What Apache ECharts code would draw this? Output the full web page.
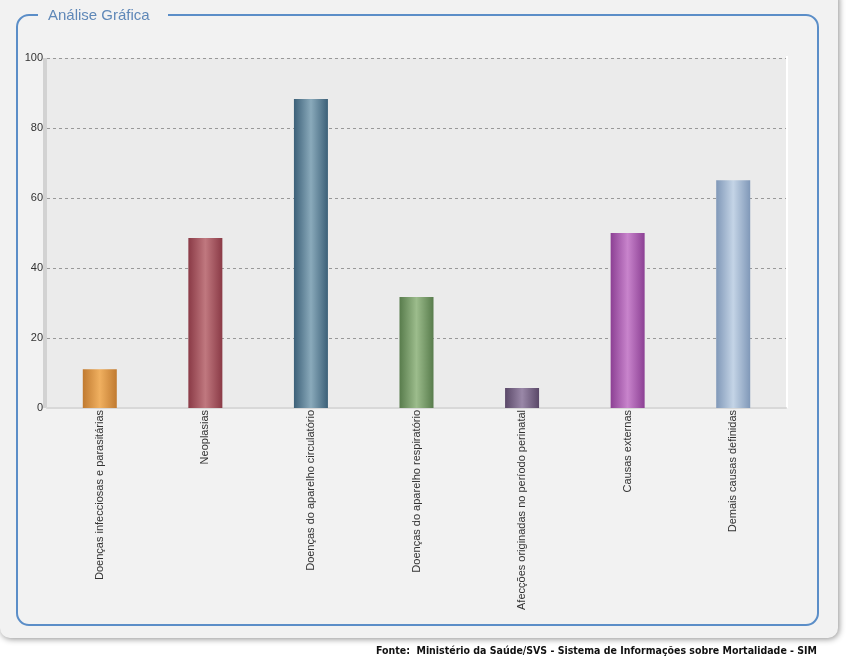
<!DOCTYPE html>
<html><head><meta charset="utf-8">
<script src="https://cdn.jsdelivr.net/npm/echarts@6/dist/echarts.min.js"></script>
<style>html,body{margin:0;padding:0;background:#fff;}#c{width:846px;height:664px;}</style>
</head><body><div id="c"></div>
<script>
const categories = [
  'Doenças infecciosas e parasitárias',
  'Neoplasias',
  'Doenças do aparelho circulatório',
  'Doenças do aparelho respiratório',
  'Afecções originadas no período perinatal',
  'Causas externas',
  'Demais causas definidas'
];
const values = [11.1, 48.6, 88.3, 31.7, 5.7, 50.0, 65.1];
const yTicks = [0, 20, 40, 60, 80, 100];
const barColors = [
  ['#c07a30', '#f0b060'],
  ['#8a3a46', '#c0787f'],
  ['#3c6078', '#8aaabb'],
  ['#587c4c', '#9cbc8c'],
  ['#5a4868', '#9a88a8'],
  ['#8c4094', '#c884cc'],
  ['#8098b8', '#c4d4e6']
];
const titleText = 'Análise Gráfica';
const footerText = 'Fonte:  Ministério da Saúde/SVS - Sistema de Informações sobre Mortalidade - SIM';

function grad(c) {
  return new echarts.graphic.LinearGradient(0, 0, 1, 0, [
    {offset: 0, color: c[0]}, {offset: 0.5, color: c[1]}, {offset: 1, color: c[0]}
  ]);
}

const chart = echarts.init(document.getElementById('c'));
chart.setOption({
  animation: false,
  backgroundColor: '#ffffff',
  graphic: [
    {type: 'rect', z: -10, shape: {x: 0, y: -12, width: 838, height: 650, r: 10},
     style: {fill: '#f2f2f2', shadowBlur: 6, shadowColor: 'rgba(0,0,0,0.45)', shadowOffsetX: 1, shadowOffsetY: 1}},
    {type: 'rect', z: -9, shape: {x: 17, y: 15, width: 801, height: 610, r: 12},
     style: {fill: 'none', stroke: '#5b8ec8', lineWidth: 2}},
    {type: 'rect', z: -8, shape: {x: 38, y: 5, width: 130, height: 20}, style: {fill: '#f2f2f2'}},
    {type: 'text', z: -7, x: 48, y: 8, style: {text: titleText, fill: '#5f88b8', font: '15px "Liberation Sans", Arial, sans-serif'}},
    {type: 'rect', z: -5, shape: {x: 43, y: 58, width: 5, height: 350}, style: {fill: '#d2d2d2'}},
    {type: 'rect', z: -5, shape: {x: 786, y: 56, width: 2, height: 352}, style: {fill: '#ffffff'}},
    {type: 'text', z: 5, x: 817, y: 646, style: {text: footerText, align: 'right', fill: '#111', font: 'bold 10.5px "DejaVu Sans Condensed", "DejaVu Sans", sans-serif'}}
  ],
  grid: {left: 47, right: 60, top: 58, bottom: 256, show: true, backgroundColor: '#ebebeb', borderWidth: 0},
  xAxis: {
    type: 'category', data: categories,
    axisLine: {lineStyle: {color: '#d8d8d8', width: 2}},
    axisTick: {show: false},
    axisLabel: {rotate: 90, interval: 0, color: '#333', fontSize: 11, fontFamily: '"Liberation Sans", Arial, sans-serif', margin: 2}
  },
  yAxis: {
    type: 'value', min: yTicks[0], max: yTicks[yTicks.length - 1], interval: 20,
    axisLine: {show: false}, axisTick: {show: false},
    axisLabel: {color: '#333', fontSize: 11, fontFamily: '"Liberation Sans", Arial, sans-serif', margin: 4},
    splitLine: {lineStyle: {color: '#999', type: [3, 3], width: 1}}
  },
  series: [{
    type: 'bar', barWidth: 34,
    data: values.map((v, i) => ({value: v, itemStyle: {color: grad(barColors[i])}}))
  }]
});
</script></body></html>
